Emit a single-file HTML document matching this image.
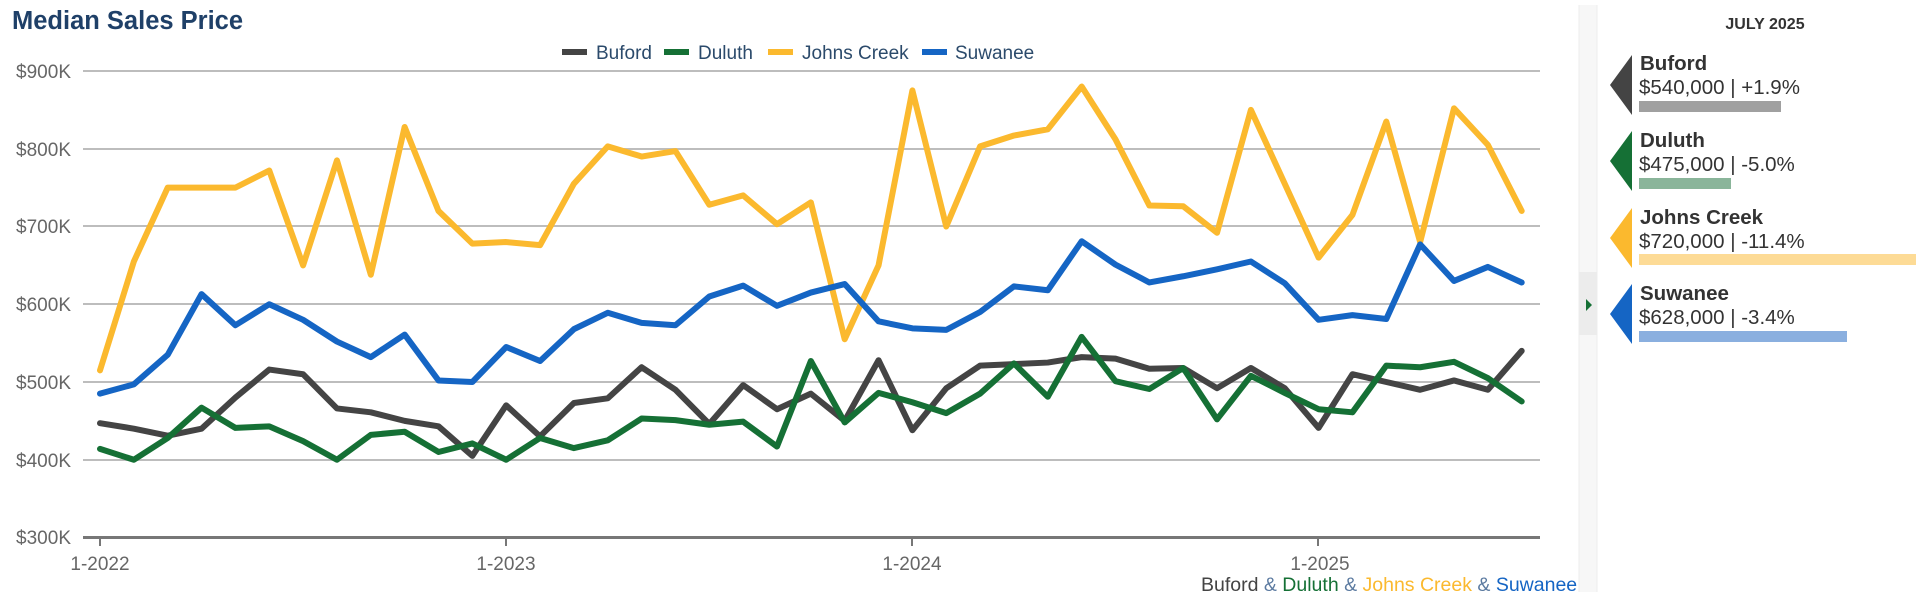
<!DOCTYPE html>
<html><head><meta charset="utf-8"><style>
body{margin:0;background:#fff;}
svg{display:block;font-family:"Liberation Sans",Arial,sans-serif;}
</style></head><body>
<svg width="1928" height="592" viewBox="0 0 1928 592" xmlns="http://www.w3.org/2000/svg">
<rect width="1928" height="592" fill="#fff"/>
<text x="12" y="29" font-size="25.5" font-weight="bold" fill="#1f4068">Median Sales Price</text>
<!-- legend -->
<g font-size="19" fill="#2b4a6b">
<rect x="562" y="49" width="25" height="6" fill="#444"/><text x="596" y="59">Buford</text>
<rect x="664" y="49" width="25" height="6" fill="#157035"/><text x="698" y="59">Duluth</text>
<rect x="768" y="49" width="25" height="6" fill="#fbb92e"/><text x="802" y="59">Johns Creek</text>
<rect x="922" y="49" width="25" height="6" fill="#1565c4"/><text x="955" y="59">Suwanee</text>
</g>
<!-- grid -->
<g stroke="#bdbdbd" stroke-width="2">
<line x1="83" x2="1540" y1="71" y2="71"/>
<line x1="83" x2="1540" y1="149" y2="149"/>
<line x1="83" x2="1540" y1="226" y2="226"/>
<line x1="83" x2="1540" y1="304" y2="304"/>
<line x1="83" x2="1540" y1="382" y2="382"/>
<line x1="83" x2="1540" y1="460" y2="460"/>
</g>
<line x1="83" x2="1540" y1="537.5" y2="537.5" stroke="#777" stroke-width="3"/>
<g stroke="#777" stroke-width="2">
<line x1="100" x2="100" y1="537" y2="546"/>
<line x1="506" x2="506" y1="537" y2="546"/>
<line x1="912" x2="912" y1="537" y2="546"/>
<line x1="1318" x2="1318" y1="537" y2="546"/>
</g>
<g font-size="19" fill="#666" text-anchor="end">
<text x="71" y="78">$900K</text>
<text x="71" y="156">$800K</text>
<text x="71" y="233">$700K</text>
<text x="71" y="311">$600K</text>
<text x="71" y="389">$500K</text>
<text x="71" y="467">$400K</text>
<text x="71" y="544">$300K</text>
</g>
<g font-size="19" fill="#666" text-anchor="middle">
<text x="100" y="570">1-2022</text>
<text x="506" y="570">1-2023</text>
<text x="912" y="570">1-2024</text>
<text x="1320" y="570">1-2025</text>
</g>
<g transform="matrix(33.85 0 0 -0.7775 100 770.75)" fill="none" stroke-width="6" stroke-linejoin="round" stroke-linecap="round">
<polyline vector-effect="non-scaling-stroke" stroke="#fbb92e" points="0,515 1,655 2,750 3,750 4,750 5,772 6,650 7,785 8,638 9,828 10,720 11,678 12,680 13,676 14,755 15,803 16,790 17,797 18,728 19,740 20,703 21,731 22,555 23,650 24,875 25,700 26,803 27,817 28,825 29,880 30,812 31,727 32,726 33,692 34,850 35,755 36,660 37,715 38,835 39,680 40,852 41,805 42,720"/>
<polyline vector-effect="non-scaling-stroke" stroke="#1565c4" points="0,485 1,497 2,535 3,613 4,573 5,600 6,580 7,552 8,532 9,561 10,502 11,500 12,545 13,527 14,568 15,589 16,576 17,573 18,610 19,624 20,598 21,615 22,626 23,578 24,569 25,567 26,590 27,623 28,618 29,681 30,651 31,628 32,636 33,645 34,655 35,627 36,580 37,586 38,581 39,677 40,630 41,648 42,628"/>
<polyline vector-effect="non-scaling-stroke" stroke="#444" points="0,447 1,440 2,431 3,440 4,480 5,516 6,510 7,466 8,461 9,450 10,443 11,405 12,470 13,430 14,473 15,479 16,519 17,490 18,446 19,496 20,465 21,485 22,450 23,528 24,438 25,492 26,521 27,523 28,525 29,532 30,530 31,517 32,518 33,492 34,518 35,492 36,441 37,510 38,500 39,490 40,502 41,490 42,540"/>
<polyline vector-effect="non-scaling-stroke" stroke="#157035" points="0,414 1,400 2,428 3,467 4,441 5,443 6,424 7,400 8,432 9,436 10,410 11,421 12,400 13,428 14,415 15,425 16,453 17,451 18,445 19,449 20,417 21,527 22,448 23,486 24,474 25,460 26,485 27,524 28,481 29,558 30,501 31,491 32,518 33,452 34,508 35,486 36,465 37,461 38,521 39,519 40,526 41,505 42,475"/>
</g>
<text x="1201" y="591" font-size="19.5"><tspan fill="#444">Buford</tspan><tspan fill="#5b7aa0"> &amp; </tspan><tspan fill="#157035">Duluth</tspan><tspan fill="#5b7aa0"> &amp; </tspan><tspan fill="#fbb92e">Johns Creek</tspan><tspan fill="#5b7aa0"> &amp; </tspan><tspan fill="#1565c4">Suwanee</tspan></text>
<!-- right panel -->
<rect x="1579" y="5" width="18" height="587" fill="#f7f7f7"/>
<line x1="1579" x2="1579" y1="5" y2="592" stroke="#ececec"/>
<line x1="1597" x2="1597" y1="5" y2="592" stroke="#ececec"/>
<rect x="1579" y="272" width="18" height="63" fill="#ececec"/>
<polygon points="1586,299 1592,305 1586,311" fill="#157035"/>
<text x="1765" y="29" font-size="16" font-weight="bold" fill="#333" text-anchor="middle">JULY 2025</text>
<g font-size="20.5" fill="#333">
<polygon points="1632,55 1610,85 1632,115" fill="#444"/>
<text x="1640" y="70" font-weight="bold">Buford</text>
<text x="1639" y="94">$540,000 | +1.9%</text>
<rect x="1639" y="101" width="142" height="11" fill="#a0a0a0"/>
<polygon points="1632,131 1610,161 1632,191" fill="#157035"/>
<text x="1640" y="147" font-weight="bold">Duluth</text>
<text x="1639" y="171">$475,000 | -5.0%</text>
<rect x="1639" y="178" width="92" height="11" fill="#8ab59a"/>
<polygon points="1632,208 1610,238 1632,268" fill="#fbb92e"/>
<text x="1640" y="224" font-weight="bold">Johns Creek</text>
<text x="1639" y="248">$720,000 | -11.4%</text>
<rect x="1639" y="254" width="277" height="11" fill="#fddb96"/>
<polygon points="1632,284 1610,314 1632,344" fill="#1565c4"/>
<text x="1640" y="300" font-weight="bold">Suwanee</text>
<text x="1639" y="324">$628,000 | -3.4%</text>
<rect x="1639" y="331" width="208" height="11" fill="#8aafdf"/>
</g>
</svg>
</body></html>
